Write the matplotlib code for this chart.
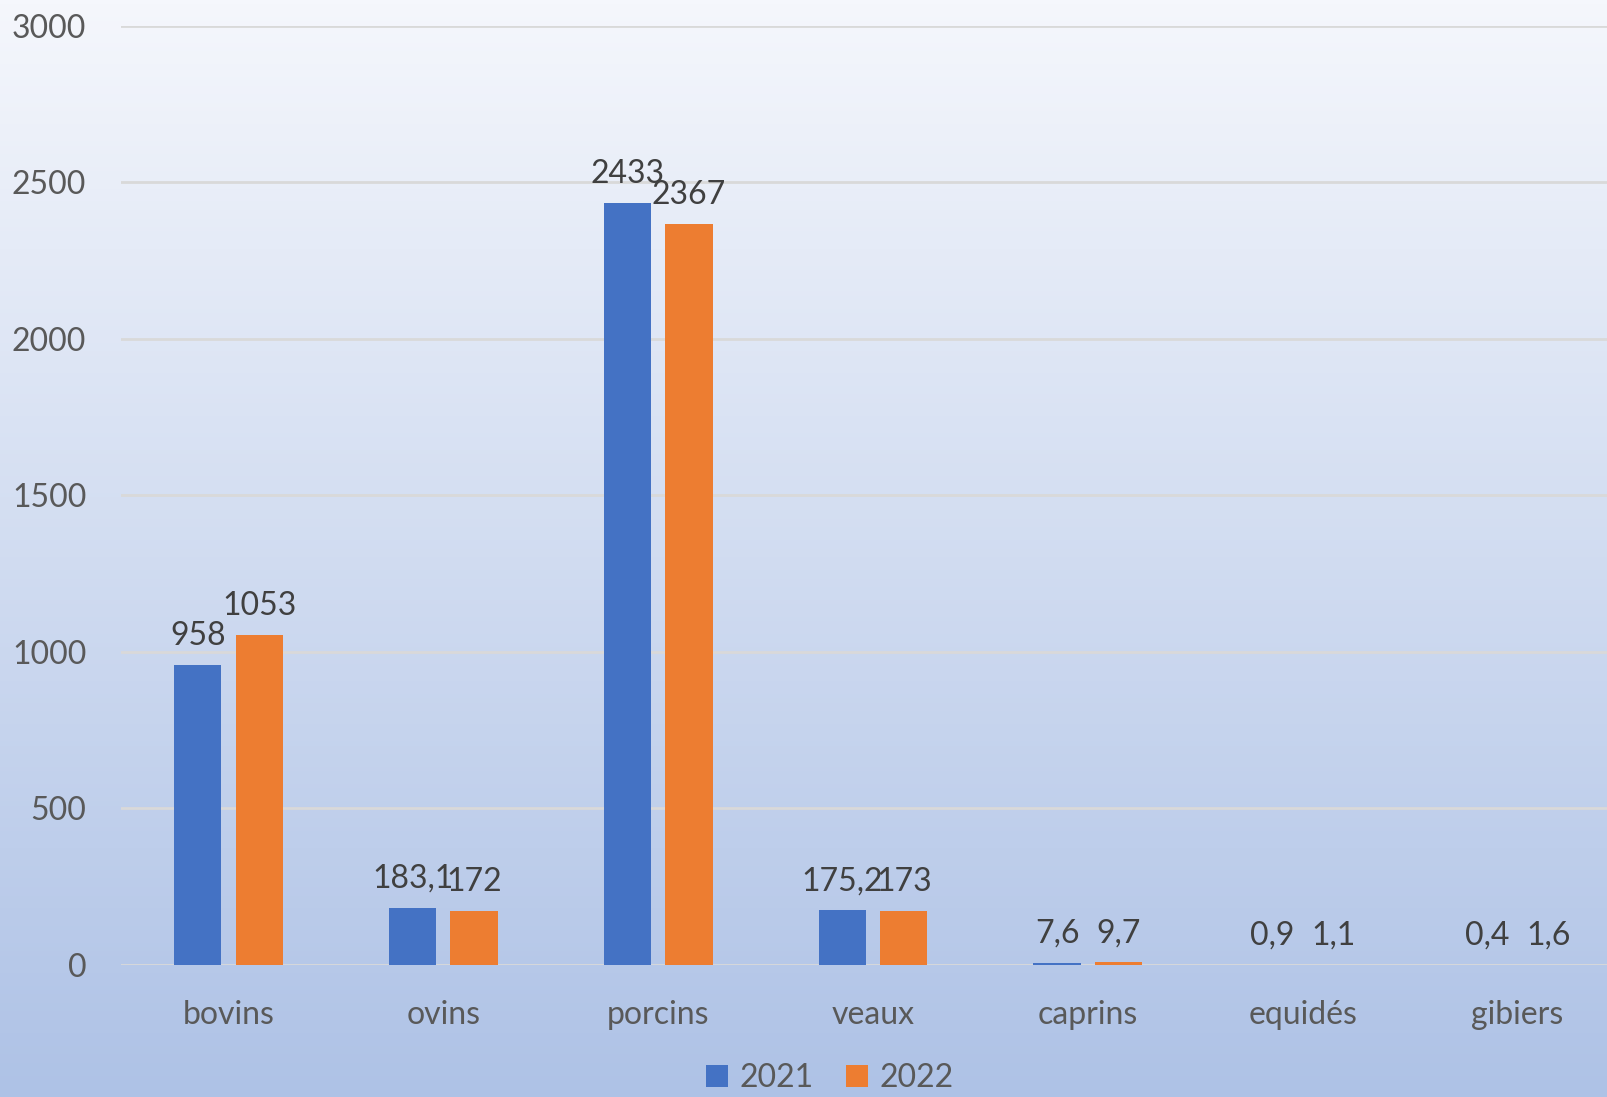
import numpy as np
import matplotlib.pyplot as plt
from matplotlib.colors import LinearSegmentedColormap

categories = ['bovins', 'ovins', 'porcins', 'veaux', 'caprins', 'equidés', 'gibiers']
val_2021 = [958, 183.1, 2433, 175.2, 7.6, 0.9, 0.4]
val_2022 = [1053, 172, 2367, 173, 9.7, 1.1, 1.6]
lbl_2021 = ['958', '183,1', '2433', '175,2', '7,6', '0,9', '0,4']
lbl_2022 = ['1053', '172', '2367', '173', '9,7', '1,1', '1,6']
yticks = [0, 500, 1000, 1500, 2000, 2500, 3000]

plt.rcParams['font.family'] = ['Lato', 'DejaVu Sans']

fig = plt.figure(figsize=(16.08, 10.97), dpi=100)

# fond en dégradé
bg = fig.add_axes([0, 0, 1, 1], zorder=0)
cmap = LinearSegmentedColormap.from_list('fond', ['#aec2e6', '#f5f7fc'])
grad = np.linspace(0, 1, 256).reshape(-1, 1)
bg.imshow(grad, aspect='auto', cmap=cmap, origin='lower', extent=[0, 1, 0, 1])
bg.axis('off')

ax = fig.add_axes([121/1608, 0.1203, 1504/1608, 0.8564], zorder=1)
ax.patch.set_alpha(0)

x = np.arange(len(categories))
w = 0.22
off = 0.143
b1 = ax.bar(x - off, val_2021, w, color='#4472c4', label='2021', zorder=3)
b2 = ax.bar(x + off, val_2022, w, color='#ed7d31', label='2022', zorder=3)

for bars, labels in [(b1, lbl_2021), (b2, lbl_2022)]:
    for bar, t in zip(bars, labels):
        ax.annotate(t, (bar.get_x() + bar.get_width() / 2, bar.get_height()),
                    xytext=(0, 10), textcoords='offset points', ha='center', va='bottom',
                    fontsize=23, color='#404040', zorder=4)

ax.set_xlim(-0.5, 6.5)
ax.set_ylim(0, 3000)
ax.set_yticks(yticks)
ax.set_xticks(x)
ax.set_xticklabels(categories)
ax.tick_params(axis='both', length=0, labelsize=23, colors='#595959')
ax.tick_params(axis='y', pad=25)
ax.tick_params(axis='x', pad=25)
ax.grid(axis='y', color='#d9d9d9', linewidth=2, zorder=0)
for s in ax.spines.values():
    s.set_visible(False)

fig.legend(handles=[b1, b2], loc='center', bbox_to_anchor=(0.516, 0.017), ncol=2,
           frameon=False, fontsize=23, labelcolor='#595959', handlelength=0.7,
           handleheight=0.7, handletextpad=0.35, columnspacing=1.0)

fig.savefig('out.png', dpi=100)
